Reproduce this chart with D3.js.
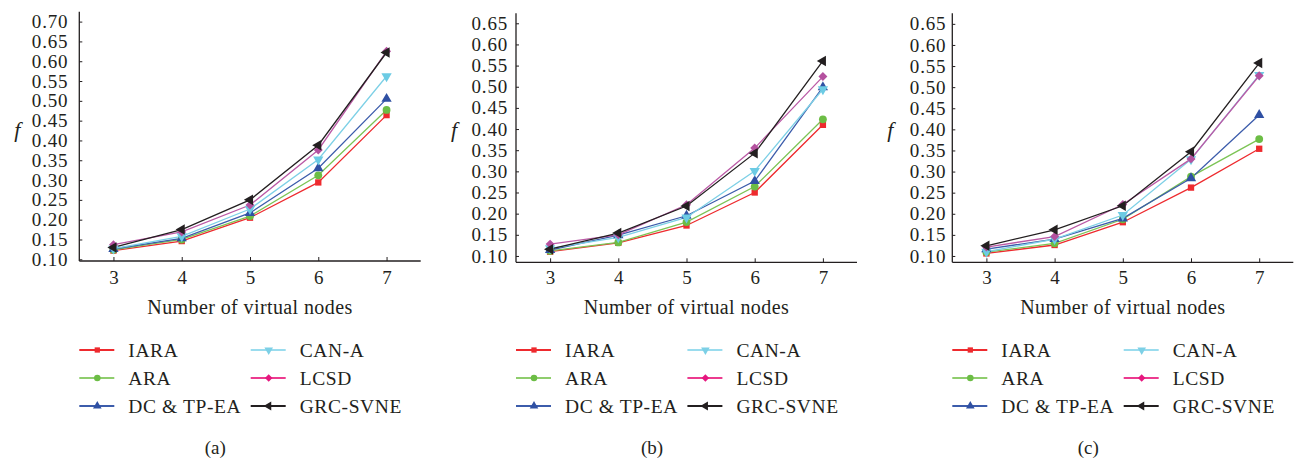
<!DOCTYPE html>
<html><head><meta charset="utf-8">
<script src="https://cdn.jsdelivr.net/npm/d3@7"></script>
<style>
body{margin:0;background:#fff}
svg{display:block}
text{font-family:"Liberation Serif","Times New Roman",serif;fill:#231f20}
</style></head>
<body><svg id="chart" width="1302" height="459"></svg>
<script>
// ---------- data ----------
const xValues = [3, 4, 5, 6, 7];
const seriesNames = ["IARA", "ARA", "DC & TP-EA", "CAN-A", "LCSD", "GRC-SVNE"];
const panelLabels = ["(a)", "(b)", "(c)"];
const yTicksA = [0.10, 0.15, 0.20, 0.25, 0.30, 0.35, 0.40, 0.45, 0.50, 0.55, 0.60, 0.65, 0.70];
const yTicksBC = [0.10, 0.15, 0.20, 0.25, 0.30, 0.35, 0.40, 0.45, 0.50, 0.55, 0.60, 0.65];

// panel (a)
const aIARA = [0.122, 0.146, 0.205, 0.294, 0.464];
const aARA  = [0.124, 0.150, 0.209, 0.312, 0.477];
const aDC   = [0.126, 0.153, 0.217, 0.330, 0.505];
const aCAN  = [0.127, 0.158, 0.227, 0.352, 0.562];
const aLCSD = [0.137, 0.169, 0.237, 0.376, 0.625];
const aGRC  = [0.130, 0.175, 0.250, 0.388, 0.622];
// panel (b)
const bIARA = [0.110, 0.131, 0.172, 0.250, 0.410];
const bARA  = [0.112, 0.132, 0.180, 0.264, 0.423];
const bDC   = [0.114, 0.149, 0.195, 0.277, 0.499];
const bCAN  = [0.118, 0.144, 0.191, 0.301, 0.494];
const bLCSD = [0.128, 0.150, 0.221, 0.355, 0.524];
const bGRC  = [0.116, 0.154, 0.218, 0.343, 0.561];
// panel (c)
const cIARA = [0.106, 0.126, 0.180, 0.262, 0.354];
const cARA  = [0.109, 0.130, 0.187, 0.288, 0.377];
const cDC   = [0.116, 0.140, 0.189, 0.284, 0.434];
const cCAN  = [0.110, 0.140, 0.197, 0.329, 0.529];
const cLCSD = [0.121, 0.146, 0.222, 0.330, 0.527];
const cGRC  = [0.124, 0.162, 0.219, 0.347, 0.557];

// ---------- styles ----------
const plotColors   = ["#ee2a2e", "#6cbd45", "#2f50a3", "#6ccbe4", "#b4519f", "#231f20"];
const lineColors   = ["#ee2a2e", "#7cc455", "#3c5cab", "#7dd0e6", "#bb5aa6", "#231f20"];
const legendLine   = ["#ee2a2e", "#8fcd6d", "#3c5cab", "#9adcee", "#ec3b8f", "#231f20"];
const legendMark   = ["#ee2a2e", "#6cbd45", "#2f50a3", "#7dd0e6", "#e6177f", "#231f20"];
const symbolTypes  = [d3.symbolSquare, d3.symbolCircle, d3.symbolTriangle, d3.symbolTriangle, d3.symbolSquare, d3.symbolTriangle];
const symbolRot    = [0, 0, 0, 180, 45, -90];
const symbolSize   = [40, 48, 46, 46, 40, 48];

const panels = [
  {series:[aIARA,aARA,aDC,aCAN,aLCSD,aGRC], ticks:yTicksA, left:79.3, right:420.7, top:11.7, bottom:261, dom:[0.0957,0.725], labelGap:8},
  {series:[bIARA,bARA,bDC,bCAN,bLCSD,bGRC], ticks:yTicksBC, left:516, right:857, top:13.3, bottom:262.3, dom:[0.085,0.6736], labelGap:5},
  {series:[cIARA,cARA,cDC,cCAN,cLCSD,cGRC], ticks:yTicksBC, left:952.3, right:1293.3, top:13.3, bottom:262.3, dom:[0.085,0.675], labelGap:3}
];

const svg = d3.select("#chart");
const axisColor = "#231f20";

panels.forEach((p, pi) => {
  const g = svg.append("g");
  const x = d3.scaleLinear().domain([2.5, 7.5]).range([p.left, p.right]);
  const y = d3.scaleLinear().domain(p.dom).range([p.bottom, p.top]);

  // y axis
  const yAxis = d3.axisLeft(y).tickValues(p.ticks).tickFormat(d => d.toFixed(2)).tickSizeInner(-3).tickSizeOuter(0).tickPadding(p.labelGap + 3);
  const ya = g.append("g").attr("transform", `translate(${p.left},0)`).call(yAxis);
  ya.select(".domain").attr("d", `M0,${p.top}V${p.bottom}`).attr("stroke", axisColor).attr("stroke-width", 1.3);
  ya.selectAll(".tick line").attr("stroke", axisColor).attr("stroke-width", 1);
  ya.selectAll(".tick text").attr("font-size", 19).attr("letter-spacing", 0.8).attr("font-family", '"Liberation Serif",serif').attr("fill", axisColor);

  // x axis
  const xAxis = d3.axisBottom(x).tickValues(xValues).tickFormat(d3.format("d")).tickSizeInner(-4).tickSizeOuter(0).tickPadding(10);
  const xa = g.append("g").attr("transform", `translate(0,${p.bottom})`).call(xAxis);
  xa.select(".domain").attr("d", `M${p.left},0H${p.right}`).attr("stroke", axisColor).attr("stroke-width", 1.3);
  xa.selectAll(".tick line").attr("stroke", axisColor).attr("stroke-width", 1);
  xa.selectAll(".tick text").attr("font-size", 19).attr("font-family", '"Liberation Serif",serif').attr("fill", axisColor)
    .attr("y", 277.5 - p.bottom).attr("dy", "0.35em");

  // axis titles
  g.append("text").attr("x", x(5)).attr("y", 314).attr("text-anchor", "middle")
    .attr("font-size", 20).attr("letter-spacing", 0.4).text("Number of virtual nodes");
  g.append("text").attr("x", p.left - 62).attr("y", 137).attr("text-anchor", "middle")
    .attr("font-size", 22).attr("font-style", "italic").text("f");

  // series
  const line = d3.line().x((d, i) => x(xValues[i])).y(d => y(d));
  p.series.forEach((vals, si) => {
    g.append("path").attr("d", line(vals)).attr("fill", "none")
      .attr("stroke", lineColors[si]).attr("stroke-width", 1.3);
  });
  p.series.forEach((vals, si) => {
    const sym = d3.symbol().type(symbolTypes[si]).size(symbolSize[si]);
    g.selectAll(null).data(vals).enter().append("path")
      .attr("d", sym)
      .attr("transform", (d, i) => `translate(${x(xValues[i])},${y(d)}) rotate(${symbolRot[si]})`)
      .attr("fill", plotColors[si]);
  });

  // legend
  const rowsY = [350, 378, 406];
  seriesNames.forEach((name, si) => {
    const col = Math.floor(si / 3), row = si % 3;
    const lx = p.left + col * 171.4;
    const ly = rowsY[row];
    const lg = g.append("g");
    lg.append("line").attr("x1", lx).attr("x2", lx + 35).attr("y1", ly).attr("y2", ly)
      .attr("stroke", legendLine[si]).attr("stroke-width", 1.8);
    const sym = d3.symbol().type(symbolTypes[si]).size(symbolSize[si] * 0.7);
    lg.append("path").attr("d", sym)
      .attr("transform", `translate(${lx + 18},${ly}) rotate(${symbolRot[si]})`)
      .attr("fill", legendMark[si]);
    lg.append("text").attr("x", lx + 49).attr("y", ly).attr("dy", "0.35em")
      .attr("font-size", 19.5).attr("letter-spacing", 0.6).text(name);
  });

  g.append("text").attr("x", p.left + 136).attr("y", 447).attr("dy", "0.35em").attr("text-anchor", "middle")
    .attr("font-size", 19).text(panelLabels[pi]);
});
</script>
</body></html>
